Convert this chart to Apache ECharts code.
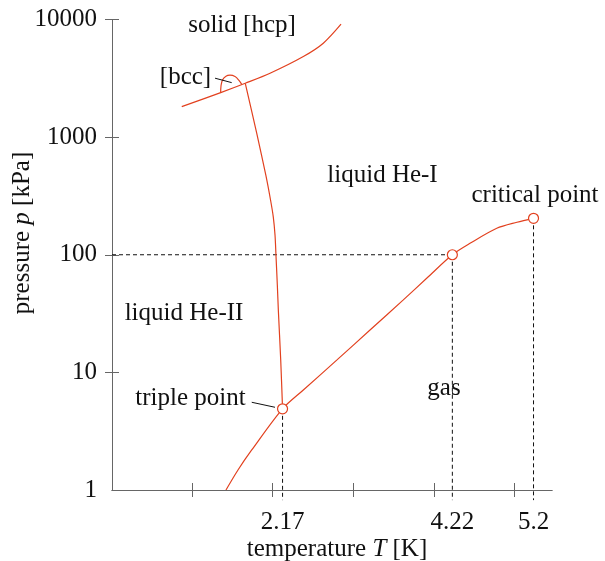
<!DOCTYPE html>
<html>
<head>
<meta charset="utf-8">
<script src="https://cdn.jsdelivr.net/npm/echarts@6/dist/echarts.min.js"></script>
<style>
html,body{margin:0;padding:0;background:#fff;}
#chart{width:605px;height:561px;}
</style>
</head>
<body>
<div id="chart"></div>
<script>
// ---- data ----
const tempTicks = [1.08, 2.05, 3.02, 4.0, 4.97];
const tempLabels = [2.17, 4.22, 5.2];
const pressureTicks = [10, 100, 1000, 10000];
const pressureLabels = [1, 10, 100, 1000, 10000];

// liquid–gas (vapour pressure) curve
const vaporT = [1.487, 1.632, 1.798, 2.17, 2.421, 2.824, 3.226, 3.628, 3.91, 4.22, 4.433, 4.756, 5.0, 5.2];
const vaporP = [1, 1.48, 2.19, 4.9, 7.08, 12.7, 22.9, 41.3, 63.1, 100, 125, 168, 189, 204];

// lambda line (He-I / He-II)
const lambdaT = [1.72, 1.858, 1.97, 2.025, 2.058, 2.079, 2.091, 2.107, 2.119, 2.148, 2.17];
const lambdaP = [2870, 1080, 468, 292, 210, 147, 97.7, 55.4, 34, 12.7, 4.9];

// melting curve (solid hcp / liquid)
const meltT = [0.953, 1.415, 1.72, 2.019, 2.421, 2.662, 2.876];
const meltP = [1816, 2380, 2870, 3491, 4842, 6286, 9120];

// bcc pocket
const bccT = [1.423, 1.427, 1.445, 1.487, 1.536, 1.596, 1.644, 1.677];
const bccP = [2400, 2723, 3062, 3300, 3360, 3270, 3035, 2810];

// marked points: triple point, normal boiling point, critical point
const pointNames = ['triple point', 'boiling point', 'critical point'];
const pointT = [2.17, 4.22, 5.2];
const pointP = [4.9, 100, 204];

const axisFloorP = 0.82;   // dashed drop lines run slightly below the axis
const axisMinT = 0.111;
const axisMaxT = 5.423;

// leader lines for labels
const tripleLeaderT = [1.798, 2.079];
const tripleLeaderP = [5.57, 5.05];
const bccLeaderT = [1.355, 1.556];
const bccLeaderP = [3170, 2906];

// ---- build ----
const zip = (a, b) => a.map((v, i) => [v, b[i]]);
const RED = '#e2411f';
const FONT = '"Liberation Serif", "Times New Roman", serif';
const FS = 25;
const AXIS_COLOR = '#666';

const dropLines = [];
pointT.forEach((t, i) => {
  dropLines.push([t, pointP[i]], [t, axisFloorP], null);
});
const hLine = [[axisMinT, pointP[1]], [pointT[1], pointP[1]]];

function txt(text, x, y, extra) {
  return Object.assign({
    type: 'text', x: x, y: y, z: 100,
    style: {
      text: text, fill: '#111', fontFamily: FONT, fontSize: FS,
      align: 'center', verticalAlign: 'middle'
    }
  }, extra || {});
}

const chart = echarts.init(document.getElementById('chart'), null, {renderer: 'canvas'});
const gridBox = {left: 112, right: 53, top: 19.5, bottom: 71, containLabel: false};
const baseX = {
  type: 'value', min: axisMinT, max: axisMaxT, position: 'bottom',
  splitLine: {show: false}
};
const baseY = {
  type: 'log', logBase: 10, min: 1, max: 10000, position: 'left',
  splitLine: {show: false}, minorTick: {show: false}
};
chart.setOption({
  animation: false,
  backgroundColor: '#fff',
  grid: [Object.assign({}, gridBox), Object.assign({}, gridBox)],
  xAxis: [
    Object.assign({}, baseX, {
      gridIndex: 0,
      axisLine: {show: true, lineStyle: {color: AXIS_COLOR, width: 1}},
      axisTick: {show: true, inside: false, length: 7, customValues: tempTicks, lineStyle: {color: AXIS_COLOR, width: 1}},
      axisLabel: {show: true, customValues: tempLabels, margin: 20, color: '#111', fontFamily: FONT, fontSize: FS,
        formatter: v => String(+(+v).toFixed(2))}
    }),
    Object.assign({}, baseX, {
      gridIndex: 1,
      axisLine: {show: true, lineStyle: {color: AXIS_COLOR, width: 1}},
      axisTick: {show: true, inside: true, length: 7, customValues: tempTicks, lineStyle: {color: AXIS_COLOR, width: 1}},
      axisLabel: {show: false}
    })
  ],
  yAxis: [
    Object.assign({}, baseY, {
      gridIndex: 0,
      axisLine: {show: true, lineStyle: {color: AXIS_COLOR, width: 1}},
      axisTick: {show: true, inside: false, length: 7, customValues: pressureTicks, lineStyle: {color: AXIS_COLOR, width: 1}},
      axisLabel: {show: true, customValues: pressureLabels, margin: 15, color: '#111', fontFamily: FONT, fontSize: FS,
        formatter: v => String(Math.round(v))}
    }),
    Object.assign({}, baseY, {
      gridIndex: 1,
      axisLine: {show: true, lineStyle: {color: AXIS_COLOR, width: 1}},
      axisTick: {show: true, inside: true, length: 7, customValues: pressureTicks, lineStyle: {color: AXIS_COLOR, width: 1}},
      axisLabel: {show: false}
    })
  ],
  series: [
    {
      name: 'drop lines', type: 'line', data: dropLines, clip: false, symbol: 'none', connectNulls: false,
      lineStyle: {color: '#111', width: 1, type: [4, 3]}, z: 1
    },
    {
      name: '100 kPa', type: 'line', data: hLine, clip: false, symbol: 'none',
      lineStyle: {color: '#111', width: 1, type: [4, 3]}, z: 1
    },
    {
      name: 'vapour', type: 'line', data: zip(vaporT, vaporP), symbol: 'none', smooth: 0.3,
      lineStyle: {color: RED, width: 1.2}, z: 2
    },
    {
      name: 'lambda', type: 'line', data: zip(lambdaT, lambdaP), symbol: 'none', smooth: 0.3,
      lineStyle: {color: RED, width: 1.2}, z: 2
    },
    {
      name: 'melting', type: 'line', data: zip(meltT, meltP), symbol: 'none', smooth: 0.3,
      lineStyle: {color: RED, width: 1.2}, z: 2
    },
    {
      name: 'bcc', type: 'line', data: zip(bccT, bccP), symbol: 'none', smooth: 0.4,
      lineStyle: {color: RED, width: 1.2}, z: 2
    },
    {
      name: 'triple leader', type: 'line', data: zip(tripleLeaderT, tripleLeaderP), symbol: 'none',
      lineStyle: {color: '#111', width: 1}, z: 3
    },
    {
      name: 'bcc leader', type: 'line', data: zip(bccLeaderT, bccLeaderP), symbol: 'none',
      lineStyle: {color: '#111', width: 1}, z: 3
    },
    {
      name: 'points', type: 'scatter', data: zip(pointT, pointP), symbol: 'circle', symbolSize: 10,
      itemStyle: {color: '#fff', borderColor: RED, borderWidth: 1.2, opacity: 1}, z: 5
    },
    {
      name: 'tick carrier', type: 'line', xAxisIndex: 1, yAxisIndex: 1, data: [], symbol: 'none', silent: true
    }
  ],
  graphic: [
    txt('solid [hcp]', 242, 25),
    txt('[bcc]', 185.5, 77),
    txt('liquid He-I', 382.5, 175),
    txt('liquid He-II', 184, 313),
    txt('critical point', 535, 195),
    txt('gas', 444, 388),
    txt('triple point', 190.5, 398.5),
    {
      type: 'text', x: 337, y: 549, z: 100,
      style: {
        text: 'temperature {i|T} [K]', fill: '#111', fontFamily: FONT, fontSize: FS,
        align: 'center', verticalAlign: 'middle',
        rich: {i: {fontStyle: 'italic', fontFamily: FONT, fontSize: FS, fill: '#111'}}
      }
    },
    {
      type: 'text', x: 22, y: 233, rotation: Math.PI / 2, z: 100,
      style: {
        text: 'pressure {i|p} [kPa]', fill: '#111', fontFamily: FONT, fontSize: FS,
        align: 'center', verticalAlign: 'middle',
        rich: {i: {fontStyle: 'italic', fontFamily: FONT, fontSize: FS, fill: '#111'}}
      }
    }
  ]
});
</script>
</body>
</html>
